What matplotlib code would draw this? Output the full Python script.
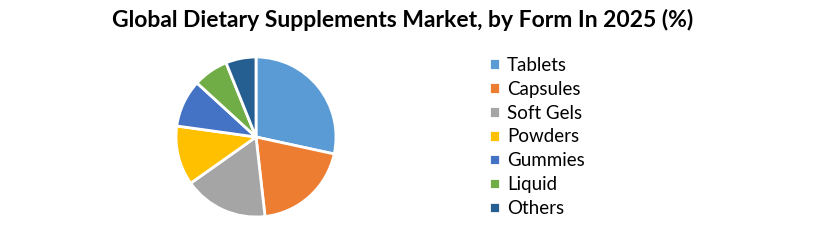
import matplotlib
matplotlib.use("Agg")
from matplotlib import pyplot as plt

categories = ["Tablets", "Capsules", "Soft Gels", "Powders", "Gummies", "Liquid", "Others"]
shares     = [28.4, 19.8, 17.0, 12.0, 9.6, 7.1, 6.1]
colors     = ["#5B9BD5", "#ED7D31", "#A5A5A5", "#FFC000", "#4472C4", "#70AD47", "#255E91"]

plt.rcParams["font.family"] = ["Lato", "DejaVu Sans"]

fig = plt.figure(figsize=(8.2, 2.44), dpi=100)
ax = fig.add_axes([176 / 820, 27 / 244, 160 / 820, 160 / 244])

wedges, _ = ax.pie(shares, colors=colors, startangle=90, counterclock=False,
                   wedgeprops=dict(edgecolor="white", linewidth=2))
ax.set_xlim(-1, 1)
ax.set_ylim(-1, 1)
ax.set_aspect("equal")

fig.text(403 / 820, 1 - 20 / 244, "Global Dietary Supplements Market, by Form In 2025 (%)",
         ha="center", va="center", fontsize=16.5, fontweight="bold")

fig.legend(wedges, categories, loc="center left", bbox_to_anchor=(480 / 820, 1 - 137 / 244),
           frameon=False, fontsize=13.5, handlelength=0.55, handleheight=0.55,
           handletextpad=0.4, labelspacing=0.37, borderpad=0)

fig.savefig("out.png", dpi=100)
